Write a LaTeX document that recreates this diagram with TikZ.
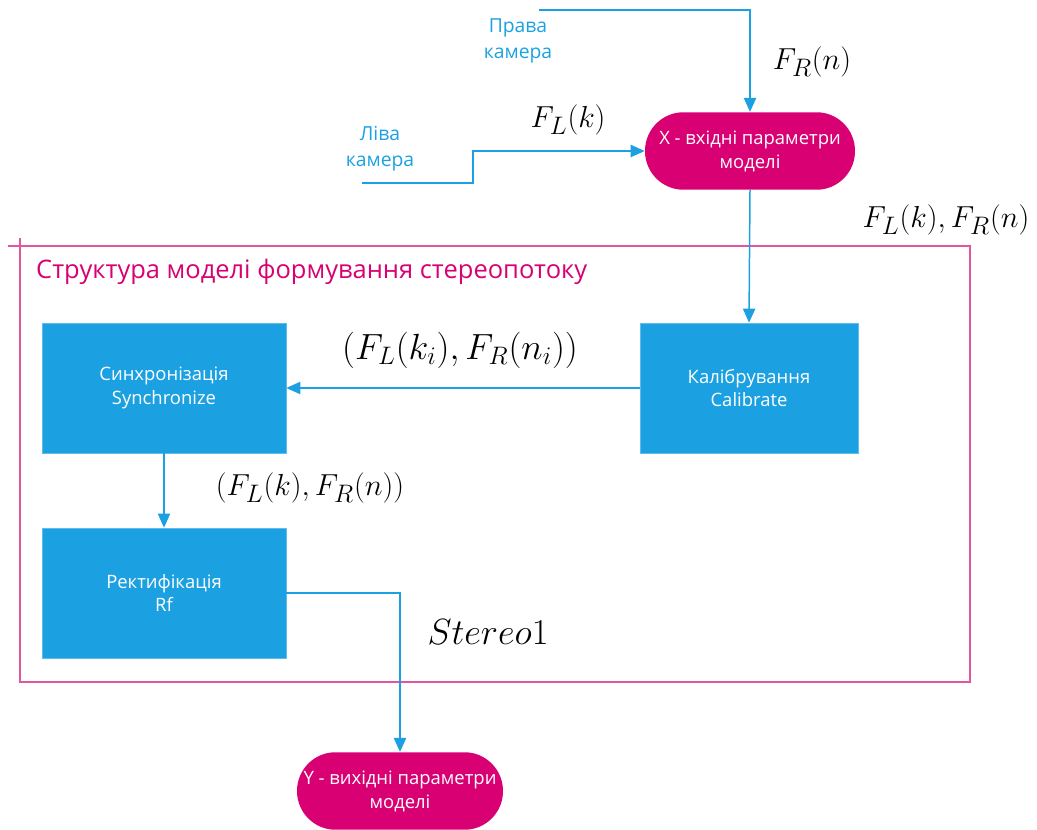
\documentclass[tikz,border=0pt]{standalone}
\usepackage{fontspec}
\setmainfont{Open Sans}
\usetikzlibrary{arrows.meta}
\definecolor{metroblue}{HTML}{1BA1E2}
\definecolor{metromag}{HTML}{D80073}
\definecolor{framemag}{HTML}{E3559E}

\tikzset{
  blok/.style={rectangle, fill=metroblue, draw=metroblue!70, text=white,
    minimum height=2.6cm, align=center, inner sep=0pt,
    font=\fontsize{10.5}{13.6}\selectfont},
  pill/.style={rectangle, rounded corners=0.77cm, fill=metromag, text=white,
    minimum height=1.55cm, align=center, inner sep=0pt,
    font=\fontsize{10.5}{13.6}\selectfont},
  potik/.style={draw=metroblue, line width=0.85pt, -{Triangle[length=8pt,width=7pt]}},
  formula/.style={font=\fontsize{19}{21}\selectfont},
  kamera/.style={text=metroblue, align=center, font=\fontsize{11}{15}\selectfont},
}

\begin{document}
\begin{tikzpicture}[x=0.02cm,y=-0.02cm]
	\useasboundingbox (0,0) rectangle (1037,830);

	% frame of the model
	\draw[framemag, line width=0.85pt] (8,246) -- (970,246) -- (970,682) -- (20,682) -- (20,238);
	\node[anchor=west, text=metromag, font=\fontsize{14.5}{16}\selectfont] (title) at (30,272) {Структура моделі формування стереопотоку};

	\node[pill, minimum width=4.2cm] (xin) at (750,151) {X - вхідні параметри\\моделі};
	\node[blok, minimum width=4.36cm] (calib) at (749,388) {Калібрування\\Calibrate};
	\node[blok, minimum width=4.88cm] (sync) at (164,388) {Синхронізація\\Synchronize};
	\node[blok, minimum width=4.88cm] (rect) at (164,593) {Ректифікація\\Rf};
	\node[pill, minimum width=4.12cm] (yout) at (400,791) {Y - вихідні параметри\\моделі};

	\node[kamera] (pcam) at (518,41) {Права\\камера};
	\node[kamera] (lcam) at (380,149) {Ліва\\камера};
	\coordinate (pstart) at (539,10);
	\coordinate (lstart) at (362,183);
	\coordinate (lbend) at (473,183);

	\node[formula] (fr) at (812,62) {$F_R(n)$};
	\node[formula] (fl) at (568,120) {$F_L(k)$};
	\node[formula] (flr) at (946,220) {$F_L(k),F_R(n)$};
	\node[formula, font=\fontsize{20.5}{22}\selectfont] (flri) at (460,350) {$(F_L(k_i),F_R(n_i))$};
	\node[formula] (flr2) at (310,488) {$(F_L(k),F_R(n))$};
	\node[formula, font=\fontsize{22}{24}\selectfont] (st) at (488,632) {$Stereo1$};

	\begin{scope}[every path/.style={potik}]
		\draw (pstart) -| (xin.north);
		\draw (lstart) -- (lbend) |- (xin.west);
		\draw (xin.south) -- (calib.north);
		\draw (calib.west) -- (sync.east);
		\draw (sync.south) -- (rect.north);
		\draw (rect.east) -| (yout.north);
	\end{scope}
\end{tikzpicture}
\end{document}
